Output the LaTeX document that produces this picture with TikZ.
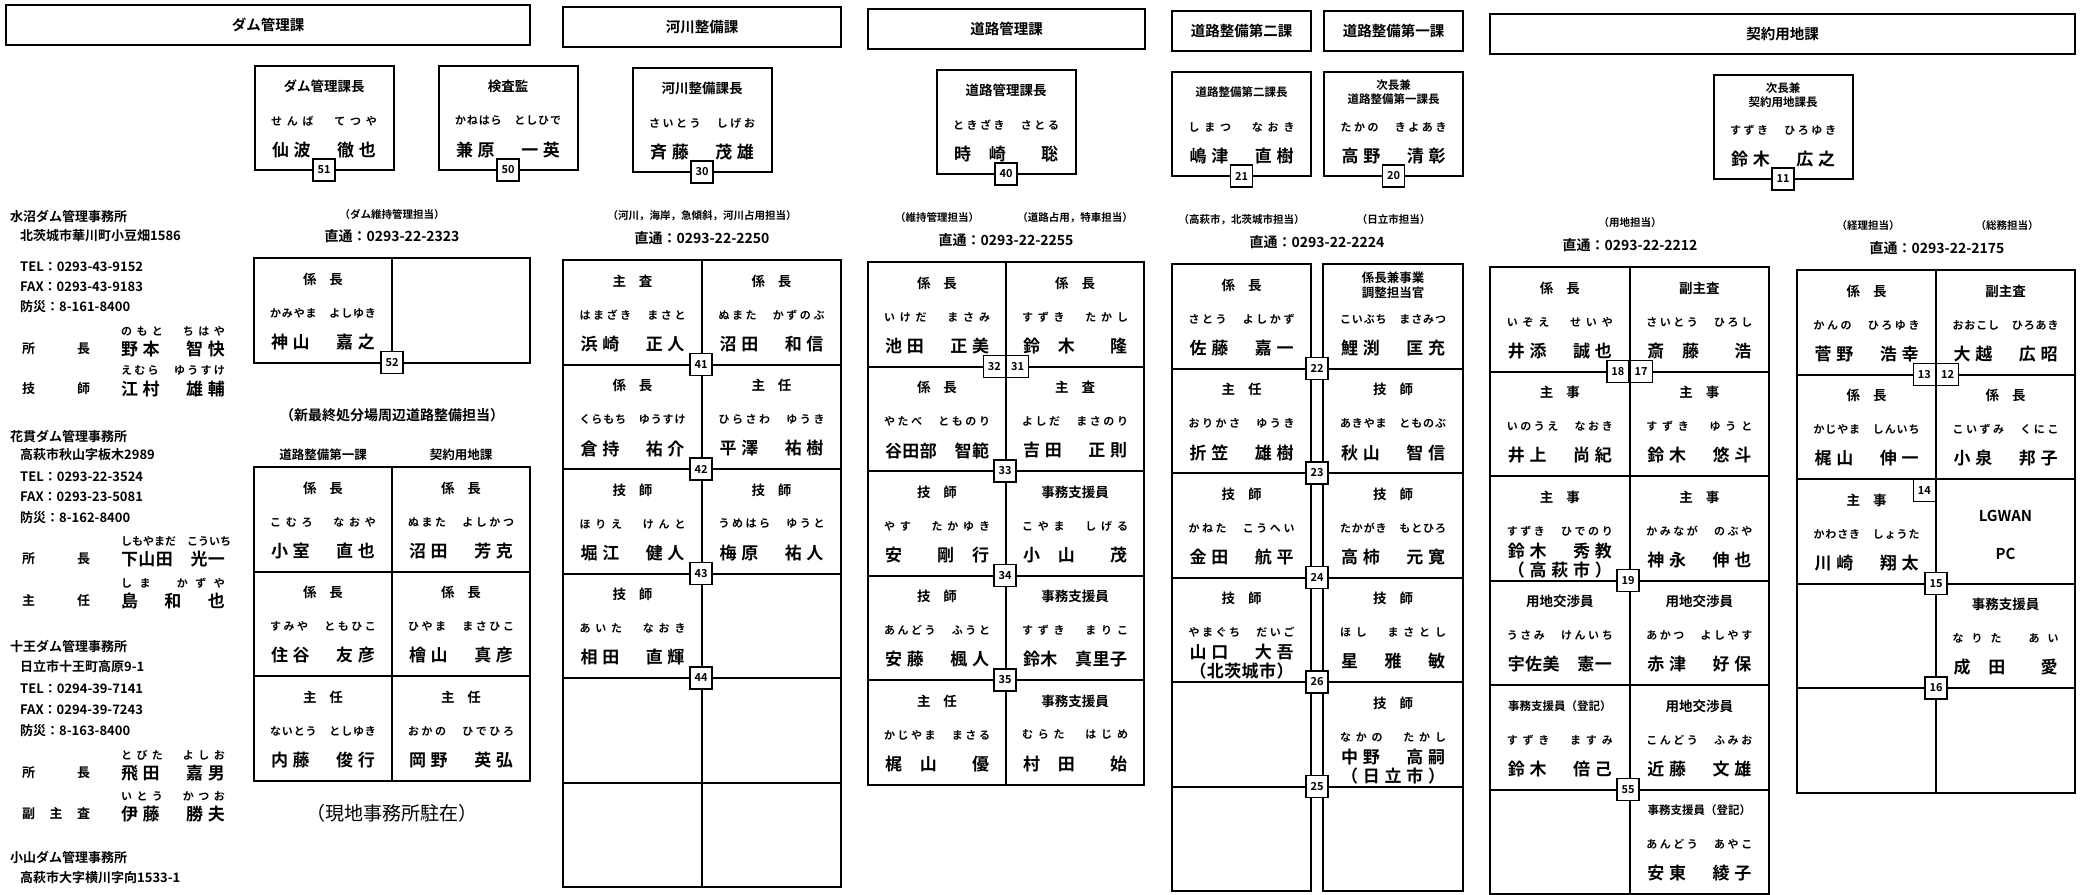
\documentclass[tikz,border=0pt]{standalone}
\usepackage{fontspec}
\usepackage{tikz}
\newfontfamily\jpb{Noto Sans CJK JP Bold}
\newfontfamily\jpr{Noto Sans CJK JP}
\newcommand\fs[1]{\fontsize{#1}{#1}\selectfont}
% spread the letters of #2 over a box of width #1
\def\dist#1#2{\hbox to #1{\distA#2\relax}}
\def\distA#1{\ifx#1\relax\else#1\expandafter\distB\fi}
\def\distB#1{\ifx#1\relax\else\hfil#1\expandafter\distB\fi}
\newcommand\duo[1]{\dist{40pt}{#1}}

\tikzset{
  hdr/.style={draw, line width=2.3pt, minimum height=40pt, inner sep=0pt, font=\jpb\fs{14.5}},
  boss/.style={draw, line width=2pt, minimum width=139pt, minimum height=104pt, inner sep=0pt},
  ttl/.style={inner sep=0pt, align=center, font=\jpb\fs{13.5}},
  ttl2/.style={ttl, font=\jpb\fontsize{12.5}{15}\selectfont},
  ttl3/.style={ttl, font=\jpb\fontsize{11.5}{14}\selectfont},
  kana/.style={inner sep=0pt, font=\jpb\fs{11}},
  nme/.style={inner sep=0pt, font=\jpb\fs{17}},
  num/.style={draw, fill=white, line width=1.4pt, minimum width=22pt, minimum height=22pt, inner sep=0pt, font=\jpb\fs{11}},
  note/.style={inner sep=0pt, font=\jpb\fs{10.5}},
  tel/.style={inner sep=0pt, font=\jpb\fs{14}},
  info/.style={inner sep=0pt, anchor=west, font=\jpb\fs{13}},
  grid/.style={line width=2pt},
}
% id, x, number, title style, title, kana, name
\newcommand\boss[7]{%
  \node[boss] (#1) at (#2,118) {};
  \node[ttl,#4] (#1t) at (#2,86) {#5};
  \node[kana] (#1k) at (#2,121) {\dist{106pt}{#6}};
  \node[nme] (#1n) at (#2,150) {\dist{104pt}{#7}};
  \node[num] (#1x) at (#2,170) {#3};}
% id, x, top, title style, title, kana, name
\newcommand\seat[7]{%
  \node[ttl,#4] (#1t) at (#2,#3+21) {#5};
  \node[kana] (#1k) at (#2,#3+55) {\dist{106pt}{#6}};
  \node[nme] (#1n) at (#2,#3+84) {\dist{104pt}{#7}};}
% same, with a second line under the name
\newcommand\seatp[7]{%
  \node[ttl] (#1t) at (#2,#3+21) {#4};
  \node[kana] (#1k) at (#2,#3+55) {\dist{106pt}{#5}};
  \node[nme] (#1n) at (#2,#3+75) {\dist{104pt}{#6}};
  \node[nme] (#1p) at (#2,#3+94) {\dist{104pt}{#7}};}
% x1, x2, top, rows
\newcommand\seatgrid[4]{%
  \draw[grid] (#1,#3) rectangle (#2,#3+#4*104.5);
  \foreach \k in {1,...,#4} \draw[grid] (#1,#3+\k*104.5) -- (#2,#3+\k*104.5);}
% id, y, role, kana, name
\newcommand\staff[5]{%
  \node[info] (#1r) at (22,#2) {\dist{68pt}{#3}};
  \node[kana] (#1k) at (173,#2-18) {\dist{104pt}{#4}};
  \node[nme] (#1n) at (173,#2) {\dist{104pt}{#5}};}

\begin{document}
\begin{tikzpicture}[x=1pt,y=-1pt]
  \fill[white] (0,0) rectangle (2085,894);
  \useasboundingbox (0,0) rectangle (2085,894);

  % dam offices
  \node[info] (mizu) at (10,216) {水沼ダム管理事務所};
  \node[info] (mizuA) at (20,236) {北茨城市華川町小豆畑1586};
  \node[info] (mizuT) at (20,267) {TEL：0293-43-9152};
  \node[info] (mizuF) at (20,287) {FAX：0293-43-9183};
  \node[info] (mizuB) at (20,307) {防災：8-161-8400};
  \staff{mizu1}{349}{所長}{のもと　ちはや}{野本　智快}
  \staff{mizu2}{389}{技師}{えむら　ゆうすけ}{江村　雄輔}
  \node[info] (hana) at (10,436) {花貫ダム管理事務所};
  \node[info] (hanaA) at (20,455) {高萩市秋山字板木2989};
  \node[info] (hanaT) at (20,477) {TEL：0293-22-3524};
  \node[info] (hanaF) at (20,497) {FAX：0293-23-5081};
  \node[info] (hanaB) at (20,518) {防災：8-162-8400};
  \staff{hana1}{559}{所長}{しもやまだ　こういち}{下山田　光一}
  \staff{hana2}{601}{主任}{しま　かずや}{島　和　也}
  \node[info] (juo) at (10,646) {十王ダム管理事務所};
  \node[info] (juoA) at (20,667) {日立市十王町高原9-1};
  \node[info] (juoT) at (20,689) {TEL：0294-39-7141};
  \node[info] (juoF) at (20,710) {FAX：0294-39-7243};
  \node[info] (juoB) at (20,731) {防災：8-163-8400};
  \staff{juo1}{773}{所長}{とびた　よしお}{飛田　嘉男}
  \staff{juo2}{814}{副主査}{いとう　かつお}{伊藤　勝夫}
  \node[info] (koya) at (10,857) {小山ダム管理事務所};
  \node[info] (koyaA) at (20,878) {高萩市大字横川字向1533-1};

  % dam
  \node[hdr, minimum width=524pt] (dam) at (268,25) {ダム管理課};
  \boss{damB}{324}{51}{}{ダム管理課長}{せんば　てつや}{仙波　徹也}
  \boss{kensa}{508}{50}{}{検査監}{かねはら　としひで}{兼原　一英}
  \node[note] (damN) at (392,214) {（ダム維持管理担当）};
  \node[tel] (damT) at (392,236) {直通：0293-22-2323};
  \seatgrid{254}{530}{258}{1}
  \draw[grid] (392,258) -- (392,362.5);
  \seat{dam1}{323}{258}{}{\duo{係長}}{かみやま　よしゆき}{神山　嘉之}
  \node[num] (n52) at (392,362.5) {52};
  \node[info, anchor=center, font=\jpb\fs{14}] (damN2) at (392,415) {（新最終処分場周辺道路整備担当）};
  \node[info, anchor=center, font=\jpb\fs{12.5}] (damL) at (323,455) {道路整備第一課};
  \node[info, anchor=center, font=\jpb\fs{12.5}] (damR) at (461,455) {契約用地課};
  \seatgrid{254}{530}{467}{3}
  \draw[grid] (392,467) -- (392,780.5);
  \seat{dam2}{323}{467}{}{\duo{係長}}{こむろ　なおや}{小室　直也}
  \seat{dam3}{461}{467}{}{\duo{係長}}{ぬまた　よしかつ}{沼田　芳克}
  \seat{dam4}{323}{571.5}{}{\duo{係長}}{すみや　ともひこ}{住谷　友彦}
  \seat{dam5}{461}{571.5}{}{\duo{係長}}{ひやま　まさひこ}{檜山　真彦}
  \seat{dam6}{323}{676}{}{\duo{主任}}{ないとう　としゆき}{内藤　俊行}
  \seat{dam7}{461}{676}{}{\duo{主任}}{おかの　ひでひろ}{岡野　英弘}
  \node[inner sep=0pt, font=\jpr\fs{19}] (genchi) at (392,813) {（現地事務所駐在）};

  % river
  \begin{scope}[yshift=-2pt]
    \node[hdr, minimum width=278pt] (kasen) at (702,25) {河川整備課};
    \boss{kasenB}{702}{30}{}{河川整備課長}{さいとう　しげお}{斉藤　茂雄}
    \node[note] (kasenN) at (702,214) {（河川，海岸，急傾斜，河川占用担当）};
    \node[tel] (kasenT) at (702,236) {直通：0293-22-2250};
    \seatgrid{563}{841}{258}{6}
    \draw[grid] (702,258) -- (702,885);
    \seat{ka1}{632.5}{258}{}{\duo{主査}}{はまざき　まさと}{浜崎　正人}
    \seat{ka2}{771.5}{258}{}{\duo{係長}}{ぬまた　かずのぶ}{沼田　和信}
    \seat{ka3}{632.5}{362.5}{}{\duo{係長}}{くらもち　ゆうすけ}{倉持　祐介}
    \seat{ka4}{771.5}{362.5}{}{\duo{主任}}{ひらさわ　ゆうき}{平澤　祐樹}
    \seat{ka5}{632.5}{467}{}{\duo{技師}}{ほりえ　けんと}{堀江　健人}
    \seat{ka6}{771.5}{467}{}{\duo{技師}}{うめはら　ゆうと}{梅原　祐人}
    \seat{ka7}{632.5}{571.5}{}{\duo{技師}}{あいた　なおき}{相田　直輝}
    \node[num] (n41) at (701,362.5) {41};
    \node[num] (n42) at (701,467) {42};
    \node[num] (n43) at (701,571.5) {43};
    \node[num] (n44) at (701,676) {44};
  \end{scope}

  % road management
  \begin{scope}[yshift=-4pt]
    \node[hdr, minimum width=277pt] (doro) at (1006.5,25) {道路管理課};
    \boss{doroB}{1006}{40}{}{道路管理課長}{ときざき　さとる}{時　崎　　聡}
    \node[note] (doroN1) at (937,214) {（維持管理担当）};
    \node[note] (doroN2) at (1075,214) {（道路占用，特車担当）};
    \node[tel] (doroT) at (1006,236) {直通：0293-22-2255};
    \seatgrid{868}{1144}{258}{5}
    \draw[grid] (1006,258) -- (1006,780.5);
    \seat{do1}{937}{258}{}{\duo{係長}}{いけだ　まさみ}{池田　正美}
    \seat{do2}{1075}{258}{}{\duo{係長}}{すずき　たかし}{鈴　木　　隆}
    \seat{do3}{937}{362.5}{}{\duo{係長}}{やたべ　とものり}{谷田部　智範}
    \seat{do4}{1075}{362.5}{}{\duo{主査}}{よしだ　まさのり}{吉田　正則}
    \seat{do5}{937}{467}{}{\duo{技師}}{やす　たかゆき}{安　　剛　行}
    \seat{do6}{1075}{467}{}{事務支援員}{こやま　しげる}{小　山　　茂}
    \seat{do7}{937}{571.5}{}{\duo{技師}}{あんどう　ふうと}{安藤　楓人}
    \seat{do8}{1075}{571.5}{}{事務支援員}{すずき　まりこ}{鈴木　真里子}
    \seat{do9}{937}{676}{}{\duo{主任}}{かじやま　まさる}{梶　山　　優}
    \seat{do10}{1075}{676}{}{事務支援員}{むらた　はじめ}{村　田　　始}
    \node[num, anchor=east] (n32) at (1006,362.5) {32};
    \node[num, anchor=west] (n31) at (1006,362.5) {31};
    \node[num] (n33) at (1005,467) {33};
    \node[num] (n34) at (1005,571.5) {34};
    \node[num] (n35) at (1005,676) {35};
  \end{scope}

  % road works 1 and 2
  \begin{scope}[yshift=-6pt]
    \node[hdr, minimum width=139pt] (seibi2) at (1241.5,25) {道路整備第二課};
    \node[hdr, minimum width=139pt] (seibi1) at (1393.5,25) {道路整備第一課};
    \boss{seibi2B}{1241.5}{21}{ttl3}{道路整備第二課長}{しまつ　なおき}{嶋津　直樹}
    \boss{seibi1B}{1393.5}{20}{ttl3}{次長兼\\道路整備第一課長}{たかの　きよあき}{高野　清彰}
    \node[note] (seibiN1) at (1241.5,214) {（高萩市，北茨城市担当）};
    \node[note] (seibiN2) at (1393.5,214) {（日立市担当）};
    \node[tel] (seibiT) at (1317,236) {直通：0293-22-2224};
    \seatgrid{1172}{1311}{258}{6}
    \seatgrid{1323}{1463}{258}{6}
    \seat{se1}{1241.5}{258}{}{\duo{係長}}{さとう　よしかず}{佐藤　嘉一}
    \seat{se2}{1241.5}{362.5}{}{\duo{主任}}{おりかさ　ゆうき}{折笠　雄樹}
    \seat{se3}{1241.5}{467}{}{\duo{技師}}{かねた　こうへい}{金田　航平}
    \seatp{se4}{1241.5}{571.5}{\duo{技師}}{やまぐち　だいご}{山口　大吾}{（北茨城市）}
    \seat{se5}{1393}{258}{ttl2}{係長兼事業\\調整担当官}{こいぶち　まさみつ}{鯉渕　匡充}
    \seat{se6}{1393}{362.5}{}{\duo{技師}}{あきやま　とものぶ}{秋山　智信}
    \seat{se7}{1393}{467}{}{\duo{技師}}{たかがき　もとひろ}{高柿　元寛}
    \seat{se8}{1393}{571.5}{}{\duo{技師}}{ほし　まさとし}{星　雅　敏}
    \seatp{se9}{1393}{676}{\duo{技師}}{なかの　たかし}{中野　高嗣}{（日立市）}
    \node[num] (n22) at (1317,362.5) {22};
    \node[num] (n23) at (1317,467) {23};
    \node[num] (n24) at (1317,571.5) {24};
    \node[num] (n26) at (1317,676) {26};
    \node[num] (n25) at (1317,780.5) {25};
  \end{scope}

  % contracts and land
  \begin{scope}[yshift=-9pt]
    \node[hdr, minimum width=585pt] (keiyaku) at (1782.5,25) {契約用地課};
    \boss{keiyakuB}{1783}{11}{ttl3}{次長兼\\契約用地課長}{すずき　ひろゆき}{鈴木　広之}
    \node[note] (yochiN) at (1630,214) {（用地担当）};
    \node[tel] (yochiT) at (1630,236) {直通：0293-22-2212};
    \seatgrid{1490}{1769}{258}{6}
    \draw[grid] (1629.5,258) -- (1629.5,885);
    \seat{yo1}{1559.75}{258}{}{\duo{係長}}{いぞえ　せいや}{井添　誠也}
    \seat{yo2}{1699.25}{258}{}{副主査}{さいとう　ひろし}{斎　藤　　浩}
    \seat{yo3}{1559.75}{362.5}{}{\duo{主事}}{いのうえ　なおき}{井上　尚紀}
    \seat{yo4}{1699.25}{362.5}{}{\duo{主事}}{すずき　ゆうと}{鈴木　悠斗}
    \seatp{yo5}{1559.75}{467}{\duo{主事}}{すずき　ひでのり}{鈴木　秀教}{（高萩市）}
    \seat{yo6}{1699.25}{467}{}{\duo{主事}}{かみなが　のぶや}{神永　伸也}
    \seat{yo7}{1559.75}{571.5}{}{用地交渉員}{うさみ　けんいち}{宇佐美　憲一}
    \seat{yo8}{1699.25}{571.5}{}{用地交渉員}{あかつ　よしやす}{赤津　好保}
    \seat{yo9}{1559.75}{676}{ttl3}{事務支援員（登記）}{すずき　ますみ}{鈴木　倍己}
    \seat{yo10}{1699.25}{676}{}{用地交渉員}{こんどう　ふみお}{近藤　文雄}
    \seat{yo11}{1699.25}{780.5}{ttl3}{事務支援員（登記）}{あんどう　あやこ}{安東　綾子}
    \node[num, anchor=east] (n18) at (1629.5,362.5) {18};
    \node[num, anchor=west] (n17) at (1629.5,362.5) {17};
    \node[num] (n19) at (1628,571.5) {19};
    \node[num] (n55) at (1628,780.5) {55};
  \end{scope}
  \begin{scope}[yshift=-12pt]
    \node[note] (keiriN) at (1868,214) {（経理担当）};
    \node[note] (somuN) at (2007,214) {（総務担当）};
    \node[tel] (somuT) at (1937,236) {直通：0293-22-2175};
    \seatgrid{1797}{2075}{258}{5}
    \draw[grid] (1936,258) -- (1936,780.5);
    \seat{so1}{1866.5}{258}{}{\duo{係長}}{かんの　ひろゆき}{菅野　浩幸}
    \seat{so2}{2005.5}{258}{}{副主査}{おおこし　ひろあき}{大越　広昭}
    \seat{so3}{1866.5}{362.5}{}{\duo{係長}}{かじやま　しんいち}{梶山　伸一}
    \seat{so4}{2005.5}{362.5}{}{\duo{係長}}{こいずみ　くにこ}{小泉　邦子}
    \seat{so5}{1866.5}{467}{}{\duo{主事}}{かわさき　しょうた}{川崎　翔太}
    \node[ttl, font=\jpb\fs{15}] (lgwan) at (2005.5,504) {LGWAN};
    \node[ttl, font=\jpb\fs{15}] (pc) at (2005.5,542) {PC};
    \seat{so6}{2005.5}{571.5}{}{事務支援員}{なりた　あい}{成　田　　愛}
    \node[num, anchor=east] (n13) at (1936,362.5) {13};
    \node[num, anchor=west] (n12) at (1936,362.5) {12};
    \node[num, anchor=north east] (n14) at (1936,467) {14};
    \node[num] (n15) at (1936,571.5) {15};
    \node[num] (n16) at (1936,676) {16};
  \end{scope}
\end{tikzpicture}
\end{document}
